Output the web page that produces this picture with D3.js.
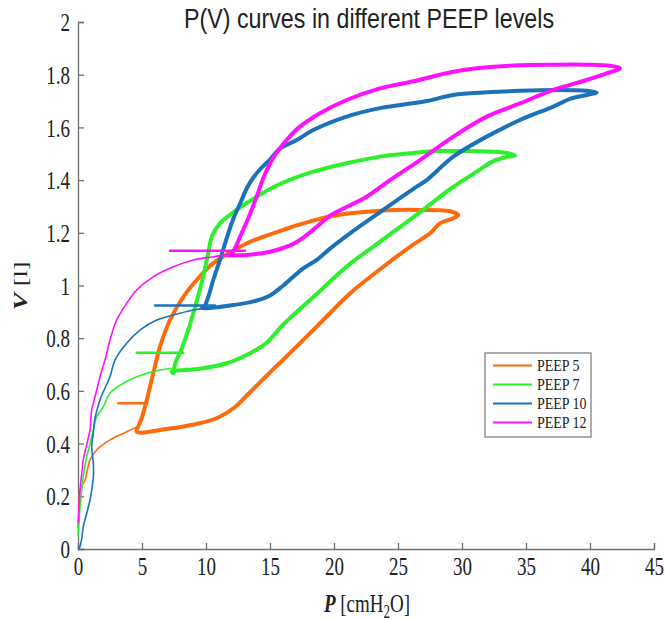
<!DOCTYPE html>
<html>
<head>
<meta charset="utf-8">
<script src="https://cdn.jsdelivr.net/npm/d3@7/dist/d3.min.js"></script>
<style>
  html, body { margin: 0; padding: 0; background: #fff; }
  svg { display: block; }
</style>
</head>
<body>
<svg id="chart" width="665" height="620"></svg>
<script>
// ---------------- DATA ----------------
const categories = ["PEEP 5", "PEEP 7", "PEEP 10", "PEEP 12"];
const colors = ["#FF6A0D", "#2DF02D", "#1A72BB", "#FF10FF"];
const xTicks = [0, 5, 10, 15, 20, 25, 30, 35, 40, 45];
const yTicks = [0, 0.2, 0.4, 0.6, 0.8, 1, 1.2, 1.4, 1.6, 1.8, 2];
const titleText = "P(V) curves in different PEEP levels";

// Thin approach lines [P, V]
const peep5Approach = [[0,0.08],[0.08,0.16],[0.16,0.224],[0.55,0.262],[0.94,0.338],[1.46,0.376],[2.5,0.414],[3.8,0.445],[4.71,0.466]];
const peep7Approach = [[0,0.05],[0.1,0.12],[0.21,0.186],[0.41,0.274],[0.68,0.35],[1.0,0.41],[1.2,0.452],[1.46,0.502],[1.98,0.54],[2.5,0.591],[3.54,0.629],[5.37,0.667],[6.41,0.679],[7.3,0.686]];
const peep10Approach = [[0.05,0.0],[0.16,0.01],[0.29,0.038],[0.41,0.085],[0.68,0.135],[0.94,0.186],[1.07,0.224],[1.2,0.274],[1.2,0.325],[1.07,0.389],[1.2,0.44],[1.3,0.49],[1.5,0.53],[1.75,0.57],[2.1,0.61],[2.5,0.654],[2.89,0.717],[3.8,0.781],[4.84,0.831],[6.15,0.869],[7.45,0.888],[9.01,0.907],[9.7,0.913]];
const peep12Approach = [[0.03,0.1],[0.1,0.18],[0.16,0.224],[0.3,0.29],[0.41,0.338],[0.7,0.4],[0.94,0.452],[1.07,0.528],[1.2,0.553],[1.46,0.603],[1.72,0.654],[2.11,0.717],[2.5,0.793],[3.02,0.869],[3.8,0.932],[4.58,0.983],[5.88,1.033],[7.45,1.071],[9.01,1.097],[10.57,1.109],[11.4,1.116]];

// Thick loops [P, V]
const peep5Loop = [[4.75,0.47],[4.6,0.445],[6.9,0.455],[9.5,0.477],[11.0,0.5],[12.3,0.54],[13.4,0.593],[15.2,0.68],[16.0,0.717],[18.65,0.844],[21.25,0.97],[23.85,1.071],[25.94,1.147],[27.5,1.198],[28.28,1.236],[29.32,1.255],[29.71,1.268],[29.06,1.282],[26.46,1.287],[23.85,1.285],[21.25,1.274],[19.69,1.262],[18.65,1.25],[17.08,1.228],[16.04,1.211],[14.48,1.185],[13.44,1.166],[11.88,1.125],[10.57,1.085],[9.53,1.035],[8.23,0.957],[7.19,0.869],[6.41,0.768],[5.88,0.667],[5.37,0.565],[5.0,0.5],[4.75,0.47]];
const peep7Loop = [[7.45,0.667],[7.32,0.673],[9.53,0.684],[11.62,0.705],[13.44,0.743],[14.74,0.783],[16.04,0.852],[18.65,0.968],[21.25,1.082],[23.85,1.175],[26.5,1.27],[29.2,1.37],[31.15,1.432],[32.45,1.472],[33.49,1.488],[34.14,1.494],[33.23,1.505],[30.63,1.51],[28.02,1.51],[26.2,1.503],[23.6,1.489],[20.99,1.464],[18.38,1.432],[15.78,1.385],[13.96,1.337],[12.4,1.287],[11.09,1.236],[10.45,1.185],[10.2,1.13],[9.9,1.06],[9.5,0.98],[9.1,0.91],[8.6,0.83],[8.1,0.76],[7.6,0.705],[7.45,0.667]];
const peep10Loop = [[9.9,0.92],[9.66,0.913],[11.88,0.924],[13.96,0.943],[15.0,0.962],[16.04,1.0],[17.6,1.065],[18.65,1.097],[19.69,1.14],[21.25,1.198],[23.85,1.287],[26.46,1.375],[27.24,1.4],[29.32,1.489],[31.93,1.565],[34.53,1.628],[37.13,1.679],[38.44,1.708],[39.74,1.723],[40.52,1.732],[39.74,1.739],[37.13,1.742],[34.53,1.739],[31.93,1.733],[29.32,1.723],[27.24,1.7],[23.59,1.673],[20.99,1.641],[18.38,1.59],[17.09,1.552],[15.78,1.52],[15.0,1.478],[14.3,1.445],[13.7,1.41],[13.2,1.37],[12.7,1.315],[12.15,1.255],[11.62,1.18],[11.09,1.097],[10.57,1.021],[10.18,0.957],[9.9,0.92]];
const peep12Loop = [[11.6,1.116],[13.18,1.116],[15.0,1.128],[16.56,1.152],[17.6,1.182],[18.65,1.223],[19.69,1.265],[22.55,1.337],[24.38,1.4],[26.72,1.476],[29.32,1.565],[31.93,1.641],[34.53,1.691],[37.13,1.742],[39.74,1.78],[41.3,1.805],[42.34,1.824],[41.56,1.834],[39.74,1.838],[37.13,1.838],[34.53,1.836],[31.93,1.828],[29.32,1.811],[26.2,1.775],[23.59,1.748],[20.99,1.704],[18.91,1.654],[17.34,1.603],[16.3,1.552],[15.2,1.48],[14.5,1.41],[13.9,1.33],[13.3,1.255],[12.66,1.185],[12.2,1.135],[11.88,1.116],[11.6,1.116]];

// PEEP markers [[P1, V], [P2, V]]
const peep5Marker = [[3.15,0.553],[5.4,0.553]];
const peep7Marker = [[4.58,0.745],[8.23,0.745]];
const peep10Marker = [[6.02,0.924],[10.7,0.924]];
const peep12Marker = [[7.19,1.132],[13.05,1.132]];

const approaches = [peep5Approach, peep7Approach, peep10Approach, peep12Approach];
const loops = [peep5Loop, peep7Loop, peep10Loop, peep12Loop];
const markers = [peep5Marker, peep7Marker, peep10Marker, peep12Marker];

// ---------------- DRAW ----------------
const svg = d3.select("#chart");
const W = 665, H = 620;
const m = { left: 78, right: 11, top: 22, bottom: 71 };
const x = d3.scaleLinear().domain([0, 45]).range([m.left, W - m.right]);
const y = d3.scaleLinear().domain([0, 2]).range([H - m.bottom, m.top]);

const axisColor = "#6e6e6e";
const serif = "'Liberation Serif', 'Times New Roman', serif";
const sans = "'Liberation Sans', Arial, sans-serif";
const S = 1.38; // vertical stretch of text seen in the reference

// Axes
const xAxis = d3.axisBottom(x).tickValues(xTicks).tickSize(-6).tickFormat(d3.format("d"));
const yAxis = d3.axisLeft(y).tickValues(yTicks).tickSize(-6).tickFormat(d => String(d));

const gx = svg.append("g").attr("transform", `translate(0,${y(0)})`).call(xAxis);
const gy = svg.append("g").attr("transform", `translate(${x(0)},0)`).call(yAxis);

[gx, gy].forEach(g => {
  g.select(".domain").attr("stroke", axisColor).attr("stroke-width", 1.3);
  g.selectAll(".tick line").attr("stroke", axisColor).attr("stroke-width", 1.3);
  g.selectAll(".tick text").attr("fill", "#222").style("font-family", serif).style("font-size", "19px");
});
gx.selectAll(".tick text")
  .attr("y", null).attr("dy", null)
  .attr("text-anchor", "middle")
  .attr("transform", `translate(0,26) scale(1,${S})`);
gy.selectAll(".tick text")
  .attr("x", null).attr("dy", null)
  .attr("text-anchor", "end")
  .attr("transform", `translate(-8,${0.33 * 19 * S}) scale(1,${S})`);

// Curves
const line = d3.line().x(d => x(d[0])).y(d => y(d[1])).curve(d3.curveCatmullRom.alpha(0.5));
const straight = d3.line().x(d => x(d[0])).y(d => y(d[1]));

const plot = svg.append("g").attr("fill", "none").attr("stroke-linecap", "round").attr("stroke-linejoin", "round");
categories.forEach((c, i) => {
  plot.append("path").attr("d", line(approaches[i])).attr("stroke", colors[i]).attr("stroke-width", 1.6);
  plot.append("path").attr("d", straight(markers[i])).attr("stroke", colors[i]).attr("stroke-width", 2.4);
  plot.append("path").attr("d", line(loops[i])).attr("stroke", colors[i]).attr("stroke-width", 4);
});

// Title
const title = svg.append("text")
  .attr("text-anchor", "middle")
  .attr("transform", `translate(${(m.left + W - m.right) / 2 + 3},${28}) scale(1,1.22)`)
  .style("font-family", sans).style("font-size", "20px").attr("fill", "#222")
  .text(titleText);
const tl = title.node().getComputedTextLength();
title.style("font-size", (20 * 370 / tl).toFixed(2) + "px");

// X label
const xl = svg.append("text")
  .attr("text-anchor", "middle")
  .attr("transform", `translate(${367},${612}) scale(1,${S})`)
  .style("font-family", serif).style("font-size", "19px").attr("fill", "#222");
xl.append("tspan").style("font-weight", "bold").style("font-style", "italic").text("P");
xl.append("tspan").text(" [cmH");
xl.append("tspan").attr("dy", 4).style("font-size", "13px").text("2");
xl.append("tspan").attr("dy", -4).text("O]");

// Y label
const yl = svg.append("text")
  .attr("text-anchor", "middle")
  .attr("transform", `translate(${27},${286}) rotate(-90) scale(${S},1)`)
  .style("font-family", serif).style("font-size", "19px").attr("fill", "#222");
yl.append("tspan").style("font-weight", "bold").style("font-style", "italic").text("V");
yl.append("tspan").text(" [l]");

// Legend
const lg = svg.append("g").attr("transform", "translate(485,353)");
lg.append("rect").attr("width", 106).attr("height", 84).attr("fill", "#fff").attr("stroke", "#777").attr("stroke-width", 1.2);
categories.forEach((c, i) => {
  const ry = 12.5 + i * 19;
  lg.append("line").attr("x1", 8).attr("x2", 47).attr("y1", ry).attr("y2", ry)
    .attr("stroke", colors[i]).attr("stroke-width", 2.2);
  lg.append("text").attr("transform", `translate(52,${ry + 5}) scale(1,1.18)`)
    .style("font-family", serif).style("font-size", "14px").attr("fill", "#222").text(c);
});
</script>
</body>
</html>
